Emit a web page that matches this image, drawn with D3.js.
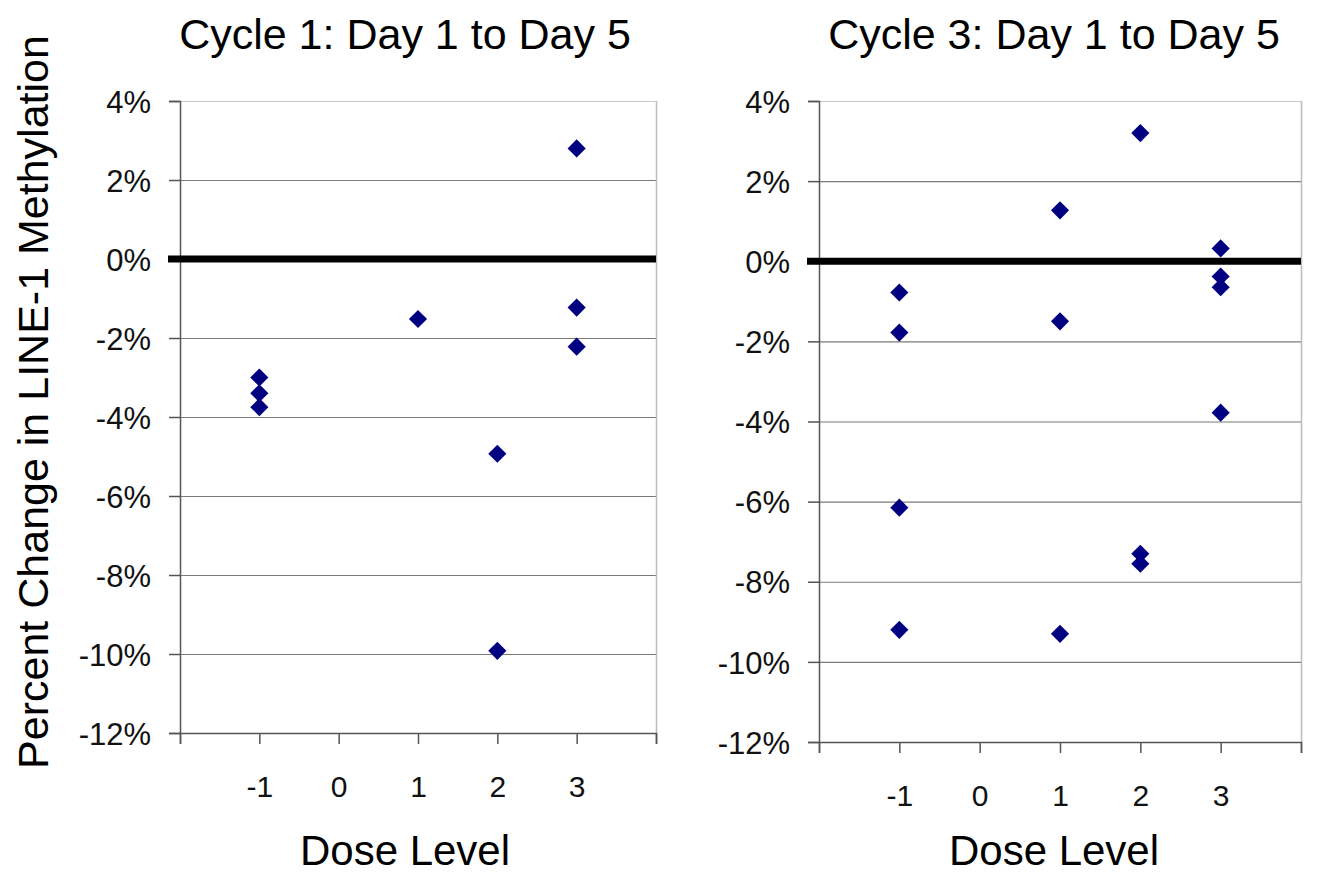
<!DOCTYPE html>
<html>
<head>
<meta charset="utf-8">
<script src="https://cdn.jsdelivr.net/npm/d3@7"></script>
<style>
	body { margin: 0; background: #fff; }
	svg { display: block; font-family: "Liberation Sans", Arial, sans-serif; }
</style>
</head>
<body>
<svg id="chart" width="1317" height="875"></svg>
<script>
	// data
	var cycle1Dose = [-1, -1, -1, 1, 2, 2, 3, 3, 3];
	var cycle1Change = [-3.0, -3.4, -3.75, -1.52, -4.93, -9.92, 2.8, -1.23, -2.22];

	var cycle3Dose = [-1, -1, -1, -1, 1, 1, 1, 2, 2, 2, 3, 3, 3, 3];
	var cycle3Change = [-0.78, -1.78, -6.15, -9.2, 1.27, -1.5, -9.3, 3.2, -7.3, -7.55, 0.32, -0.38, -0.65, -3.78];

	var yTicks = [4, 2, 0, -2, -4, -6, -8, -10, -12];
	var xTicks = [-2, -1, 0, 1, 2, 3, 4];
	var xLabels = [-1, 0, 1, 2, 3];

	var titles = ["Cycle 1: Day 1 to Day 5", "Cycle 3: Day 1 to Day 5"];
	var xTitle = "Dose Level";
	var yTitle = "Percent Change in LINE-1 Methylation";

	var svg = d3.select("#chart");

	// y axis title
	svg.append("text")
		.attr("transform", "translate(48,402) rotate(-90)")
		.attr("text-anchor", "middle")
		.attr("font-size", 43)
		.text(yTitle);

	function drawPanel(p, title, doses, changes) {

		var x = d3.scaleLinear()
			.domain([-2, 4])
			.range([p.left, p.right]);

		var y = d3.scaleLinear()
			.domain([-12, 4])
			.range([p.bottom, p.top]);

		var g = svg.append("g");

		// gridlines
		g.selectAll(".grid")
			.data(yTicks.filter(d => d !== 0 && d !== -12))
			.enter()
			.append("line")
				.attr("x1", x(-2))
				.attr("x2", x(4))
				.attr("y1", d => y(d) + 0.5)
				.attr("y2", d => y(d) + 0.5)
				.attr("stroke", d => d === 4 ? "#c8c8c8" : "#7a7a7a")
				.attr("stroke-width", 1.2);

		// right border
		g.append("line")
			.attr("x1", x(4) + 0.5).attr("x2", x(4) + 0.5)
			.attr("y1", y(4)).attr("y2", y(-12))
			.attr("stroke", "#bdbdbd")
			.attr("stroke-width", 1.5);

		// y axis
		var yAxis = d3.axisLeft(y)
			.tickValues(yTicks)
			.tickSize(11)
			.tickPadding(18)
			.tickFormat(d => d + "%");

		g.append("g")
			.attr("transform", "translate(" + x(-2) + ",0)")
			.call(yAxis)
			.call(a => a.select(".domain").attr("stroke", "#555").attr("stroke-width", 1.5))
			.call(a => a.selectAll(".tick line").attr("stroke", "#555").attr("stroke-width", 1.5))
			.call(a => a.selectAll(".tick text")
				.attr("font-size", 31)
				.attr("font-family", "Liberation Sans, Arial, sans-serif")
				.attr("fill", "#111")
				.attr("dy", "0.36em"));

		// x axis
		var xAxis = d3.axisBottom(x)
			.tickValues(xTicks)
			.tickSize(11)
			.tickPadding(32)
			.tickFormat(d => xLabels.indexOf(d) >= 0 ? d : "");

		g.append("g")
			.attr("transform", "translate(0," + y(-12) + ")")
			.call(xAxis)
			.call(a => a.select(".domain").attr("stroke", "#555").attr("stroke-width", 1.5))
			.call(a => a.selectAll(".tick line").attr("stroke", "#555").attr("stroke-width", 1.5))
			.call(a => a.selectAll(".tick text")
				.attr("font-size", 30)
				.attr("font-family", "Liberation Sans, Arial, sans-serif")
				.attr("fill", "#111"));

		// zero line
		g.append("line")
			.attr("x1", x(-2) - 12)
			.attr("x2", x(4))
			.attr("y1", y(0))
			.attr("y2", y(0))
			.attr("stroke", "#000")
			.attr("stroke-width", 7);

		// points
		g.selectAll(".pt")
			.data(changes)
			.enter()
			.append("path")
				.attr("class", "pt")
				.attr("d", d3.symbol().type(d3.symbolDiamond2).size(210))
				.attr("transform", (d, i) => "translate(" + x(doses[i]) + "," + y(d) + ")")
				.attr("fill", "#000080");

		// titles
		g.append("text")
			.attr("x", p.titleX)
			.attr("y", 49)
			.attr("text-anchor", "middle")
			.attr("font-size", 43)
			.text(title);

		g.append("text")
			.attr("x", p.titleX)
			.attr("y", 865)
			.attr("text-anchor", "middle")
			.attr("font-size", 42)
			.text(xTitle);
	}

	drawPanel({left: 180, right: 656, top: 101, bottom: 733, titleX: 405}, titles[0], cycle1Dose, cycle1Change);
	drawPanel({left: 819, right: 1301, top: 101, bottom: 742, titleX: 1054}, titles[1], cycle3Dose, cycle3Change);
</script>
</body>
</html>
